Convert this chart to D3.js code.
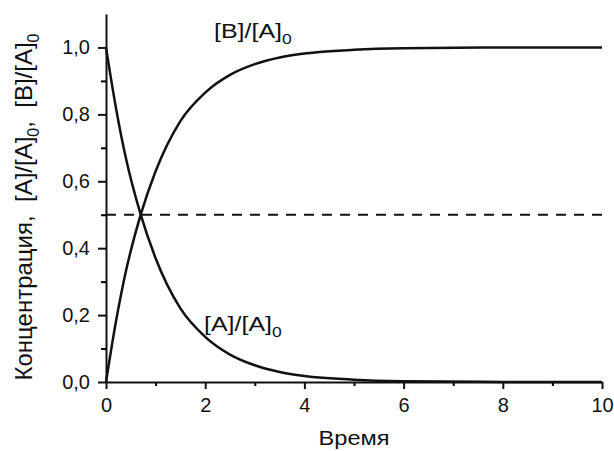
<!DOCTYPE html>
<html lang="ru">
    <head>
        <meta charset="utf-8">
        <title>Концентрация</title>
        <script type="text/javascript" src="https://d3js.org/d3.v7.min.js"></script>
        <style type="text/css">
            body {
                margin: 0;
                background-color: #ffffff;
            }
            svg {
                display: block;
            }
            text {
                font-family: Arial, "Liberation Sans", sans-serif;
                fill: #111;
            }
        </style>
    </head>
    <body>
        <svg width="614" height="451"></svg>
        <script type="text/javascript">

            // values
            const time = [0, 0.2, 0.4, 0.7, 1.0, 1.5, 2.0, 2.5, 3.0, 3.5, 4.0, 5.0, 6.0, 8.0, 10.0];
            const concA = [1.0, 0.82, 0.67, 0.50, 0.37, 0.22, 0.135, 0.082, 0.05, 0.03, 0.018, 0.007, 0.0025, 0.0003, 0.0];
            const concB = [0.0, 0.18, 0.33, 0.50, 0.63, 0.78, 0.865, 0.918, 0.95, 0.97, 0.982, 0.993, 0.9975, 0.9997, 1.0];
            const halfLevel = 0.5;

            const xTicks = [0, 2, 4, 6, 8, 10];
            const xMinor = [1, 3, 5, 7, 9];
            const yTicks = [0, 0.2, 0.4, 0.6, 0.8, 1.0];
            const yMinor = [0.1, 0.3, 0.5, 0.7, 0.9];

            const svg = d3.select("svg");

            // plot area
            const padL = 106, padR = 602, padT = 14, padB = 382;

            const x = d3.scaleLinear().domain([0, 10]).range([padL, padR]);
            const y = d3.scaleLinear().domain([0, 1.1]).range([padB, padT]);

            const fmt = d => d3.format(".1f")(d).replace(".", ",");

            // minor ticks first, then the major axis on top
            svg.append("g")
                .attr("transform", "translate(0," + padB + ")")
                .call(d3.axisBottom(x).tickValues(xMinor).tickSize(4).tickFormat(""))
                .call(g => g.select(".domain").remove())
                .selectAll("line").attr("stroke-width", 2);

            svg.append("g")
                .attr("transform", "translate(" + padL + ",0)")
                .call(d3.axisLeft(y).tickValues(yMinor).tickSize(5).tickFormat(""))
                .call(g => g.select(".domain").remove())
                .selectAll("line").attr("stroke-width", 2);

            const xAxis = svg.append("g")
                .attr("transform", "translate(0," + padB + ")")
                .call(d3.axisBottom(x).tickValues(xTicks).tickSize(7).tickSizeOuter(0).tickPadding(9).tickFormat(d3.format("d")));

            const yAxis = svg.append("g")
                .attr("transform", "translate(" + padL + ",0)")
                .call(d3.axisLeft(y).tickValues(yTicks).tickSize(8).tickSizeOuter(0).tickPadding(8).tickFormat(fmt));

            [xAxis, yAxis].forEach(function (g) {
                g.select(".domain").attr("stroke", "#111").attr("stroke-width", 2);
                g.selectAll(".tick line").attr("stroke", "#111").attr("stroke-width", 2);
                g.selectAll(".tick text")
                    .attr("font-size", 20)
                    .attr("font-family", "Arial, 'Liberation Sans', sans-serif")
                    .attr("fill", "#111");
            });

            // dashed half-level line
            svg.append("line")
                .attr("x1", x(0))
                .attr("x2", x(10))
                .attr("y1", y(halfLevel))
                .attr("y2", y(halfLevel))
                .attr("stroke", "#111")
                .attr("stroke-width", 2)
                .attr("stroke-dasharray", "10,8");

            // curves
            const line = d3.line()
                .x(d => x(d[0]))
                .y(d => y(d[1]))
                .curve(d3.curveMonotoneX);

            [concA, concB].forEach(function (vals) {
                svg.append("path")
                    .datum(time.map((t, i) => [t, vals[i]]))
                    .attr("fill", "none")
                    .attr("stroke", "#111")
                    .attr("stroke-width", 2.5)
                    .attr("d", line);
            });

            // curve labels with subscript 0 (the original type is a bit wide)
            function label(px, py, main) {
                const t = svg.append("text")
                    .attr("transform", "translate(" + px + "," + py + ") scale(1.25,1)")
                    .attr("font-size", 20);
                t.append("tspan").text(main);
                t.append("tspan").attr("dy", 6).attr("font-size", 14).text("0");
            }
            label(214, 38, "[B]/[A]");
            label(204, 331, "[A]/[A]");

            // axis titles
            svg.append("text")
                .attr("transform", "translate(" + ((padL + padR) / 2) + ",445) scale(1.18,1)")
                .attr("text-anchor", "middle")
                .attr("font-size", 20)
                .text("Время");

            const yt = svg.append("text")
                .attr("transform", "translate(32,207) rotate(-90)")
                .attr("text-anchor", "middle")
                .attr("font-size", 24)
                .attr("xml:space", "preserve");
            yt.append("tspan").text("Концентрация,  [A]/[A]");
            yt.append("tspan").attr("dy", 7).attr("font-size", 16).text("0");
            yt.append("tspan").attr("dy", -7).text(",  [B]/[A]");
            yt.append("tspan").attr("dy", 7).attr("font-size", 16).text("0");

        </script>
    </body>
</html>
